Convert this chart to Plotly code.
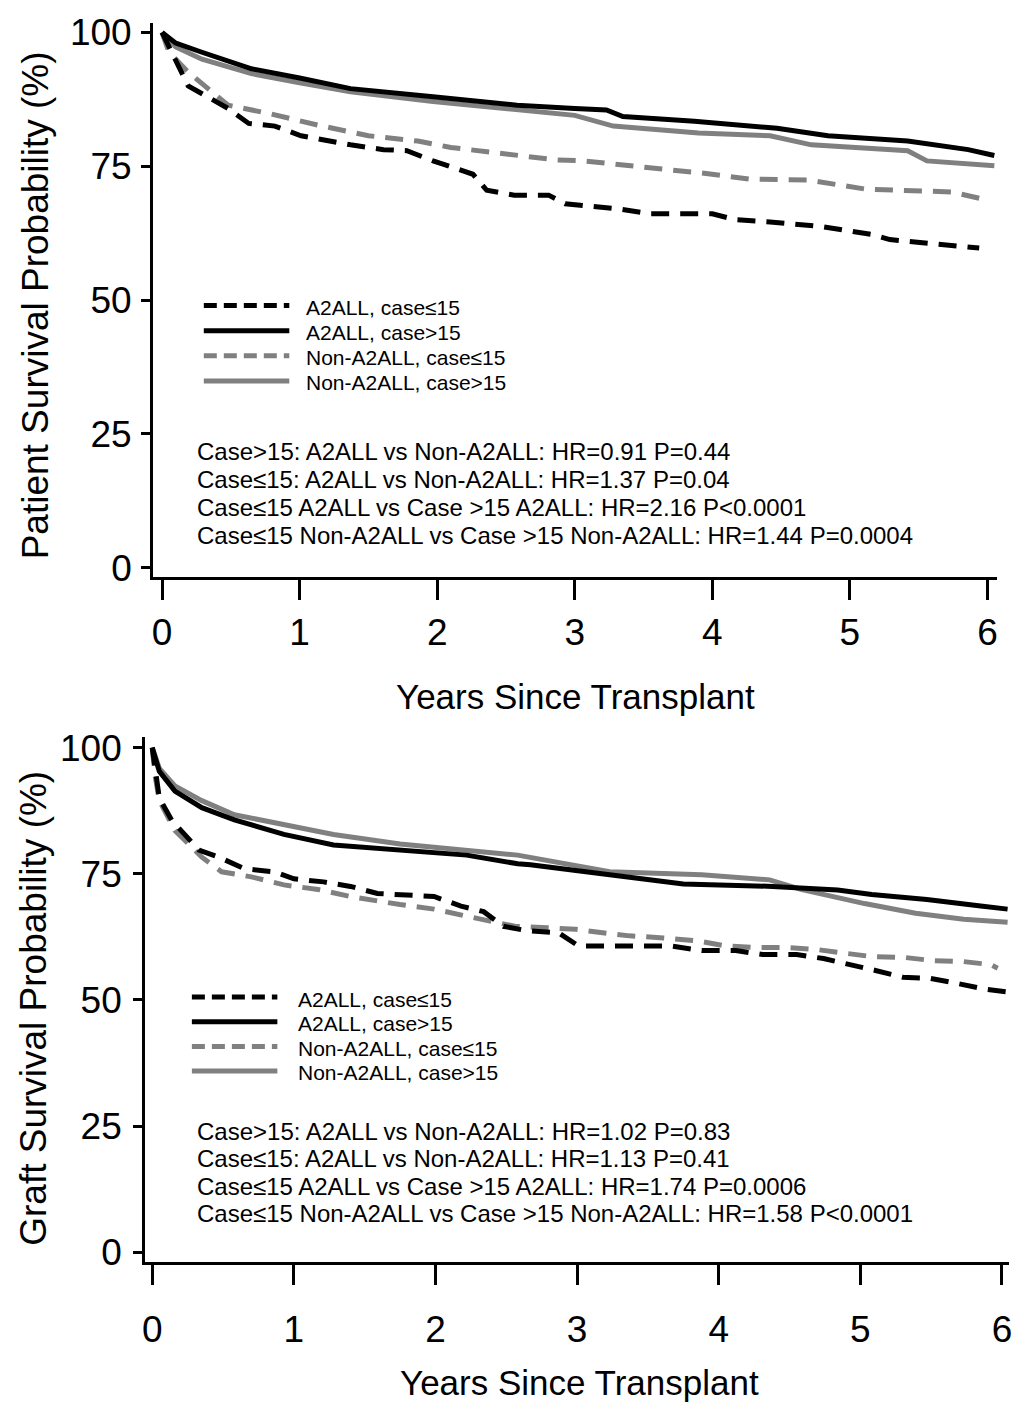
import plotly.graph_objects as go

W, H = 1016, 1414

# ---------------- Data ----------------
# Patient survival (top panel)
pat_a2_le15_t = [0, 0.1, 0.19, 0.48, 0.63, 0.82, 1.01, 1.37, 1.61, 1.78, 1.97, 2.26, 2.36, 2.56, 2.81, 2.93, 3.13, 3.33, 3.55, 4.0, 4.17, 4.42, 4.8, 4.97, 5.17, 5.29, 5.54, 5.94]
pat_a2_le15_s = [100, 95, 90, 85.8, 83, 82.5, 80.7, 79.0, 78.1, 77.9, 76.0, 73.5, 70.5, 69.6, 69.6, 68.0, 67.4, 67.0, 66.1, 66.1, 65.0, 64.6, 63.7, 63.1, 62.2, 61.3, 60.6, 59.7]

pat_a2_gt15_t = [0, 0.1, 0.29, 0.65, 1.0, 1.37, 1.97, 2.31, 2.58, 3.0, 3.23, 3.35, 3.87, 4.47, 4.84, 5.42, 5.86, 6.05]
pat_a2_gt15_s = [100, 98.0, 96.3, 93.2, 91.5, 89.5, 88.0, 87.1, 86.4, 85.8, 85.5, 84.3, 83.4, 82.1, 80.7, 79.7, 78.1, 77.0]

pat_non_le15_t = [0, 0.05, 0.19, 0.48, 0.77, 1.13, 1.5, 1.86, 2.1, 2.43, 2.86, 3.06, 3.3, 3.66, 3.9, 4.27, 4.7, 4.92, 5.12, 5.74, 5.96]
pat_non_le15_s = [100, 96.3, 92.6, 86.4, 84.9, 82.7, 80.7, 79.7, 78.5, 77.5, 76.2, 76.0, 75.3, 74.4, 73.8, 72.6, 72.4, 71.5, 70.7, 70.2, 68.9]

pat_non_gt15_t = [0, 0.1, 0.29, 0.65, 1.0, 1.37, 1.97, 2.31, 2.58, 3.0, 3.28, 3.9, 4.42, 4.72, 5.42, 5.56, 6.05]
pat_non_gt15_s = [100, 97.3, 95.0, 92.3, 90.6, 88.9, 87.1, 86.2, 85.6, 84.5, 82.5, 81.2, 80.7, 79.0, 77.9, 76.0, 75.1]

# Graft survival (bottom panel)
gr_a2_le15_t = [0, 0.05, 0.14, 0.33, 0.47, 0.65, 0.86, 1.0, 1.21, 1.4, 1.59, 1.78, 1.99, 2.18, 2.34, 2.48, 2.65, 2.87, 3.01, 3.23, 3.66, 3.88, 4.12, 4.31, 4.55, 4.74, 4.91, 5.1, 5.3, 5.49, 5.68, 5.89, 6.04]
gr_a2_le15_s = [100, 90, 85.5, 79.7, 78.3, 76.0, 75.4, 74.0, 73.4, 72.5, 71.1, 70.9, 70.5, 68.6, 67.5, 64.6, 63.7, 63.3, 60.7, 60.7, 60.7, 59.8, 59.8, 59.0, 59.0, 58.2, 57.2, 55.9, 54.5, 54.3, 53.3, 52.1, 51.6]

gr_a2_gt15_t = [0, 0.05, 0.16, 0.35, 0.58, 0.93, 1.28, 1.75, 2.22, 2.58, 2.67, 3.23, 3.75, 4.38, 4.84, 5.08, 5.47, 5.85, 6.04]
gr_a2_gt15_s = [100, 95.3, 91.4, 88.1, 85.7, 82.8, 80.7, 79.7, 78.7, 77.0, 76.8, 74.8, 73.0, 72.5, 71.8, 70.9, 69.9, 68.6, 68.0]

gr_non_le15_t = [0, 0.02, 0.05, 0.16, 0.35, 0.49, 0.7, 0.93, 1.17, 1.4, 1.75, 1.99, 2.22, 2.32, 2.56, 2.79, 2.99, 3.18, 3.37, 3.61, 3.85, 4.05, 4.26, 4.48, 4.69, 4.91, 5.08, 5.32, 5.51, 5.73, 5.92, 5.97]
gr_non_le15_s = [100, 94.5, 89.5, 83.6, 78.3, 75.4, 74.4, 72.8, 71.9, 70.5, 68.9, 68.0, 66.6, 66.0, 64.6, 64.3, 64.0, 63.3, 62.7, 62.3, 61.7, 60.7, 60.4, 60.4, 60.0, 59.2, 58.6, 58.4, 57.8, 57.6, 57.0, 56.3]

gr_non_gt15_t = [0, 0.05, 0.16, 0.35, 0.58, 0.93, 1.28, 1.75, 2.22, 2.58, 3.23, 3.88, 4.36, 4.58, 5.03, 5.39, 5.73, 6.04]
gr_non_gt15_s = [100, 95.9, 92.4, 89.5, 86.7, 84.8, 82.8, 80.9, 79.7, 78.7, 75.4, 74.8, 73.8, 71.9, 69.1, 67.2, 66.0, 65.4]

series_names = ["A2ALL, case≤15", "A2ALL, case>15", "Non-A2ALL, case≤15", "Non-A2ALL, case>15"]
x_ticks = [0, 1, 2, 3, 4, 5, 6]
y_ticks = [0, 25, 50, 75, 100]
x_title = "Years Since Transplant"
y_title_top = "Patient Survival Probability (%)"
y_title_bot = "Graft Survival Probability (%)"
stats_top = [
    "Case>15: A2ALL vs Non-A2ALL: HR=0.91 P=0.44",
    "Case≤15: A2ALL vs Non-A2ALL: HR=1.37 P=0.04",
    "Case≤15 A2ALL vs Case >15 A2ALL: HR=2.16 P<0.0001",
    "Case≤15 Non-A2ALL vs Case >15 Non-A2ALL: HR=1.44 P=0.0004",
]
stats_bot = [
    "Case>15: A2ALL vs Non-A2ALL: HR=1.02 P=0.83",
    "Case≤15: A2ALL vs Non-A2ALL: HR=1.13 P=0.41",
    "Case≤15 A2ALL vs Case >15 A2ALL: HR=1.74 P=0.0006",
    "Case≤15 Non-A2ALL vs Case >15 Non-A2ALL: HR=1.58 P<0.0001",
]

# ---------------- Styling ----------------
FONT = "Liberation Sans, Arial, sans-serif"
BLACK = "#000000"
GRAY = "#808080"
styles = [
    dict(color=BLACK, dash="18px,11px"),
    dict(color=BLACK, dash="solid"),
    dict(color=GRAY, dash="18px,11px"),
    dict(color=GRAY, dash="solid"),
]
LW = 5


def px(x):
    return x / W


def py(y):
    return 1 - y / H


fig = go.Figure()

top_series = [(pat_a2_le15_t, pat_a2_le15_s), (pat_a2_gt15_t, pat_a2_gt15_s),
              (pat_non_le15_t, pat_non_le15_s), (pat_non_gt15_t, pat_non_gt15_s)]
bot_series = [(gr_a2_le15_t, gr_a2_le15_s), (gr_a2_gt15_t, gr_a2_gt15_s),
              (gr_non_le15_t, gr_non_le15_s), (gr_non_gt15_t, gr_non_gt15_s)]

# draw gray first then black so black sits on top where overlapping
order = [3, 2, 1, 0]
for i in order:
    t, s = top_series[i]
    fig.add_trace(go.Scatter(x=t, y=s, mode="lines", name=series_names[i], showlegend=False,
                             line=dict(color=styles[i]["color"], dash=styles[i]["dash"], width=LW),
                             xaxis="x", yaxis="y"))
for i in order:
    t, s = bot_series[i]
    fig.add_trace(go.Scatter(x=t, y=s, mode="lines", name=series_names[i], showlegend=False,
                             line=dict(color=styles[i]["color"], dash=styles[i]["dash"], width=LW),
                             xaxis="x2", yaxis="y2"))

axis_common = dict(showgrid=False, zeroline=False, showline=True, linecolor="black", linewidth=3,
                   ticks="outside", tickcolor="black", tickwidth=3,
                   tickfont=dict(family=FONT, size=37, color="black"))

fig.update_layout(
    width=W, height=H, autosize=False,
    margin=dict(l=0, r=0, t=0, b=0),
    paper_bgcolor="white", plot_bgcolor="white",
    xaxis=dict(domain=[px(151), px(1000)], range=[-0.065, 6.07], anchor="y",
               tickvals=x_ticks, ticklen=20, ticklabelstandoff=0, **axis_common),
    yaxis=dict(domain=[py(576), py(13)], range=[-1.84, 101.8], anchor="x",
               tickvals=y_ticks, ticklen=9, ticklabelstandoff=2, **axis_common),
    xaxis2=dict(domain=[px(143), px(1012)], range=[-0.05, 6.05], anchor="y2",
                tickvals=x_ticks, ticklen=20, ticklabelstandoff=12, **axis_common),
    yaxis2=dict(domain=[py(1271), py(738)], range=[-1.95, 102.1], anchor="x2",
                tickvals=y_ticks, ticklen=9, ticklabelstandoff=4, **axis_common),
)

annotations = []
shapes = []

# axis titles
annotations.append(dict(text=x_title, x=px(576), y=py(697), xref="paper", yref="paper",
                        showarrow=False, xanchor="center", yanchor="middle",
                        font=dict(family=FONT, size=35, color="black")))
annotations.append(dict(text=x_title, x=px(580), y=py(1393), xref="paper", yref="paper",
                        showarrow=False, xanchor="center", yanchor="middle",
                        font=dict(family=FONT, size=35, color="black")))
annotations.append(dict(text=y_title_top, x=px(33), y=py(300), xref="paper", yref="paper",
                        showarrow=False, xanchor="center", yanchor="middle", textangle=-90,
                        font=dict(family=FONT, size=37, color="black")))
annotations.append(dict(text=y_title_bot, x=px(31), y=py(1013), xref="paper", yref="paper",
                        showarrow=False, xanchor="center", yanchor="middle", textangle=-90,
                        font=dict(family=FONT, size=37, color="black")))

# legends (keys + labels)
def add_legend(key_x0, key_x1, text_x, rows):
    for i, ry in enumerate(rows):
        st = styles[i]
        dash = "13px,7px" if st["dash"] != "solid" else "solid"
        shapes.append(dict(type="line", xref="paper", yref="paper",
                           x0=px(key_x0), x1=px(key_x1), y0=py(ry), y1=py(ry),
                           line=dict(color=st["color"], width=5, dash=dash)))
        annotations.append(dict(text=series_names[i], x=px(text_x), y=py(ry + 2),
                                xref="paper", yref="paper", showarrow=False,
                                xanchor="left", yanchor="middle", borderpad=0,
                                font=dict(family=FONT, size=21, color="black")))

add_legend(202, 288, 304, [300, 325.5, 351, 376.5])
add_legend(190, 276, 296, [1002, 1027, 1052, 1077])

def add_stats(lines, x0, rows):
    for txt, ry in zip(lines, rows):
        annotations.append(dict(text=txt, x=px(x0), y=py(ry), xref="paper", yref="paper",
                                showarrow=False, xanchor="left", yanchor="middle",
                                font=dict(family=FONT, size=24, color="black")))

add_stats(stats_top, 193, [448, 477, 505, 533])
add_stats(stats_bot, 193, [1138, 1166, 1194, 1222])

fig.update_layout(annotations=annotations, shapes=shapes)

fig.write_html("out.html")
